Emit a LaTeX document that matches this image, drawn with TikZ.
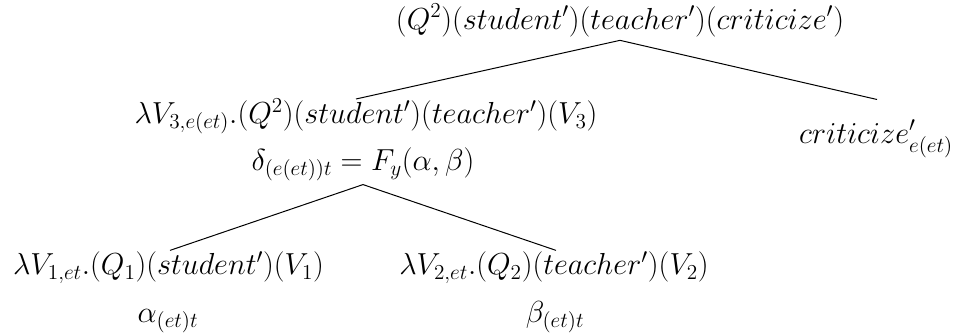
\documentclass[tikz,border=0pt]{standalone}
\usepackage{fix-cm}
\usepackage{amsmath,amssymb}
\usetikzlibrary{calc}

\begin{document}
\begin{tikzpicture}[x=0.75pt,y=0.75pt,yscale=-1,xscale=1,
  termnode/.style={anchor=base,inner sep=0pt,font=\fontsize{22.8}{27}\selectfont},
  branch/.style={line width=0.75}]
%set diagram left start at 0, and has height of 333
\useasboundingbox (0,0) rectangle (956,333);

% Text Node
\node (root) [termnode] at (620,29) {$(Q^{2})(student')(teacher')(criticize')$};
% Text Node
\node (lamthree) [termnode] at (366,123.5) {$\lambda V_{3,e(et)}.(Q^{2})(student')(teacher')(V_{3})$};
% Text Node
\node (delta) [termnode] at (363,170.5) {$\delta_{(e(et))t} = F_{y}(\alpha, \beta)$};
% Text Node
\node (crit) [termnode] at (876,143) {$criticize'_{e(et)}$};
% Text Node
\node (lamone) [termnode] at (168.5,274.5) {$\lambda V_{1,et}.(Q_{1})(student')(V_{1})$};
% Text Node
\node (alpha) [termnode] at (168,322) {$\alpha_{(et)t}$};
% Text Node
\node (lamtwo) [termnode] at (554,274.5) {$\lambda V_{2,et}.(Q_{2})(teacher')(V_{2})$};
% Text Node
\node (beta) [termnode] at (555,322) {$\beta_{(et)t}$};

%Straight Lines
\draw [branch] ($(root.south)+(0,3.5)$) -- ($(lamthree.north)+(-10,0.5)$) ;
%Straight Lines
\draw [branch] ($(root.south)+(0,3.5)$) -- ($(crit.north |- lamthree.north)+(1,1)$) ;
%Straight Lines
\draw [branch] ($(delta.south)+(0,3)$) -- ($(lamone.north)+(1.5,-1)$) ;
%Straight Lines
\draw [branch] ($(delta.south)+(0,3)$) -- ($(lamtwo.north)+(2,-1)$) ;

\end{tikzpicture}
\end{document}
